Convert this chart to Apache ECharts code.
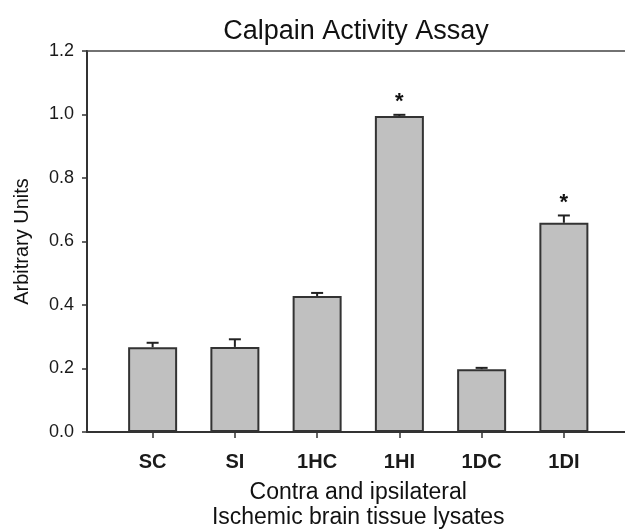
<!DOCTYPE html>
<html>
<head>
<meta charset="utf-8">
<script src="https://cdn.jsdelivr.net/npm/echarts@6/dist/echarts.min.js"></script>
<style>
  html, body { margin: 0; padding: 0; background: #fff; }
  #chart { width: 625px; height: 530px; }
</style>
</head>
<body>
<div id="chart"></div>
<script>
// data
const groups = ['SC', 'SI', '1HC', '1HI', '1DC', '1DI']
const activity = [0.267, 0.268, 0.428, 0.995, 0.198, 0.659]
const errors = [0.014, 0.024, 0.010, 0.004, 0.004, 0.023]
const significant = [false, false, false, true, false, true]
const yTicks = [0, 0.2, 0.4, 0.6, 0.8, 1.0, 1.2]

const font = 'Liberation Sans, Arial, sans-serif'
const ink = '#1a1a1a'

const errData = groups.map((g, i) => [i, activity[i], errors[i], significant[i] ? 1 : 0])

const option = {
  animation: false,
  title: {
    text: 'Calpain Activity Assay',
    left: 351,
    textAlign: 'center',
    top: 13,
    textStyle: { fontFamily: font, fontSize: 27, fontWeight: 'normal', color: '#111' },
  },
  grid: [
    // frame: left axis, top line and bottom line
    { left: 87, right: 0, top: 51, bottom: 98, outerBoundsMode: 'none' },
    // bars
    { left: 111.5, right: 20, top: 51, bottom: 98, outerBoundsMode: 'none' },
  ],
  xAxis: [
    {
      type: 'value', gridIndex: 0, min: 0, max: 1, position: 'bottom',
      axisLine: { show: true, lineStyle: { color: '#333', width: 2 } },
      axisTick: { show: false }, axisLabel: { show: false }, splitLine: { show: false },
    },
    {
      type: 'value', gridIndex: 0, min: 0, max: 1, position: 'top',
      axisLine: { show: true, lineStyle: { color: '#444', width: 1.5 } },
      axisTick: { show: false }, axisLabel: { show: false }, splitLine: { show: false },
    },
    {
      type: 'category', gridIndex: 1, data: groups,
      axisLine: { show: false },
      axisTick: { show: true, alignWithLabel: true, length: 6, lineStyle: { color: '#333', width: 1.5 } },
      axisLabel: { margin: 20, fontFamily: font, fontSize: 20, fontWeight: 'bold', color: ink },
      name: 'Contra and ipsilateral\nIschemic brain tissue lysates',
      nameLocation: 'middle',
      nameGap: 48,
      nameTextStyle: { fontFamily: font, fontSize: 23, color: '#111', lineHeight: 25 },
    },
  ],
  yAxis: [
    {
      type: 'value', gridIndex: 0, min: 0, max: 1.2, interval: 0.2,
      axisLine: { show: true, lineStyle: { color: '#333', width: 2 } },
      axisTick: { show: true, inside: false, length: 5, lineStyle: { color: '#333', width: 1.5 } },
      axisLabel: {
        margin: 13, fontFamily: font, fontSize: 18, color: ink,
        formatter: (v) => (yTicks.some((t) => Math.abs(t - v) < 1e-9) ? v.toFixed(1) : ''),
      },
      splitLine: { show: false },
      name: 'Arbitrary Units',
      nameLocation: 'middle',
      nameGap: 55,
      nameTextStyle: { fontFamily: font, fontSize: 20, color: '#111' },
    },
    { type: 'value', gridIndex: 1, min: 0, max: 1.2, show: false },
  ],
  series: [
    {
      type: 'bar',
      xAxisIndex: 2,
      yAxisIndex: 1,
      data: activity,
      barWidth: 49,
      itemStyle: { color: '#c0c0c0', borderColor: '#333', borderWidth: 2 },
    },
    {
      type: 'custom',
      xAxisIndex: 2,
      yAxisIndex: 1,
      data: errData,
      encode: { x: 0, y: 1 },
      z: 5,
      renderItem: (params, api) => {
        const i = api.value(0)
        const v = api.value(1)
        const e = api.value(2)
        const base = api.coord([i, v])
        const top = api.coord([i, v + e])
        const x = base[0]
        const children = [
          { type: 'line', shape: { x1: x, y1: base[1], x2: x, y2: top[1] }, style: { stroke: '#222', lineWidth: 2 } },
          { type: 'line', shape: { x1: x - 6, y1: top[1], x2: x + 6, y2: top[1] }, style: { stroke: '#222', lineWidth: 2 } },
        ]
        if (api.value(3) === 1) {
          children.push({
            type: 'text',
            style: {
              text: '*', x: x, y: top[1] - 2,
              align: 'center', verticalAlign: 'bottom',
              font: 'bold 22px ' + font, fill: '#111',
            },
          })
        }
        return { type: 'group', children }
      },
    },
  ],
}

const chartObj = echarts.init(document.getElementById('chart'), null, { renderer: 'canvas' })
chartObj.setOption(option)
</script>
</body>
</html>
